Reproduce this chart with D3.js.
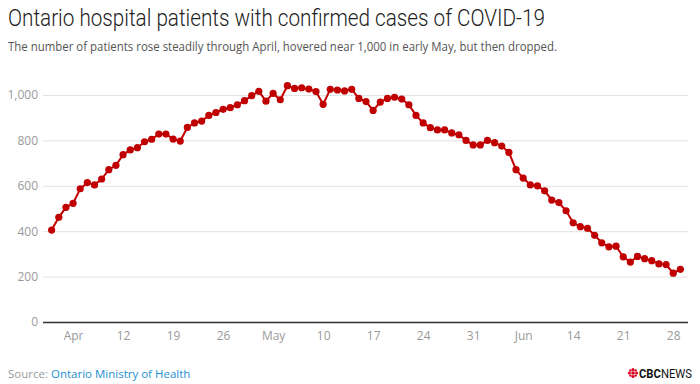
<!DOCTYPE html>
<html>
<head>
<meta charset="utf-8">
<script src="https://cdn.jsdelivr.net/npm/d3@7"></script>
<style>
  html, body { margin: 0; padding: 0; background: #fff; }
  svg { display: block; }
</style>
</head>
<body>
<svg width="700" height="384"></svg>
<script>
// Ontario hospital patients, one value per day starting Apr 2, 2020
const startDay = "2020-04-02";
const patients = [
  405, 461, 505, 523, 587, 614, 604, 630, 671, 690,
  737, 758, 768, 794, 805, 828, 828, 806, 797, 857,
  877, 885, 910, 923, 937, 944, 957, 975, 997, 1016,
  973, 1007, 979, 1041, 1029, 1032, 1026, 1015, 959, 1025,
  1022, 1018, 1025, 985, 971, 932, 969, 985, 990, 982,
  957, 910, 877, 856, 846, 846, 833, 825, 800, 780,
  780, 800, 790, 775, 747, 671, 634, 604, 600, 578,
  537, 526, 490, 437, 420, 413, 382, 349, 331, 334,
  287, 264, 289, 279, 270, 256, 253, 215, 232
];
const yTicks = [0, 200, 400, 600, 800, 1000];
const xTickLabels = ["Apr", "12", "19", "26", "May", "10", "17", "24", "31", "Jun", "14", "21", "28"];

const parse = d3.timeParse("%Y-%m-%d");
const first = parse(startDay);
const points = patients.map((v, i) => ({ date: d3.timeDay.offset(first, i), value: v }));

const svg = d3.select("svg");
const red = "#c00000";
const grey = "#9a9a9a";

const x = d3.scaleTime()
  .domain([parse("2020-04-01"), parse("2020-06-30")])
  .range([44.5, 687.5]);
const y = d3.scaleLinear().domain([0, 1000]).range([322, 95]);

// titles
svg.append("text")
  .attr("x", 8).attr("y", 26)
  .attr("font-family", "Roboto, sans-serif")
  .attr("font-size", 24)
  .attr("font-weight", 300)
  .attr("fill", "#222")
  .attr("textLength", 537)
  .attr("lengthAdjust", "spacingAndGlyphs")
  .text("Ontario hospital patients with confirmed cases of COVID-19");

svg.append("text")
  .attr("x", 8).attr("y", 51)
  .attr("font-family", "'Open Sans', sans-serif")
  .attr("font-size", 12)
  .attr("fill", "#555")
  .attr("textLength", 549)
  .attr("lengthAdjust", "spacingAndGlyphs")
  .text("The number of patients rose steadily through April, hovered near 1,000 in early May, but then dropped.");

// y grid + labels
const yAxis = svg.append("g")
  .attr("transform", "translate(43,0)")
  .call(d3.axisLeft(y).tickValues(yTicks).tickSize(-645).tickPadding(5).tickFormat(d3.format(",")));
yAxis.select(".domain").remove();
yAxis.selectAll(".tick line")
  .attr("stroke", d => d === 0 ? "#333" : "#e2e2e2")
  .attr("stroke-width", d => d === 0 ? 1.5 : 1);
yAxis.selectAll(".tick text")
  .attr("fill", grey)
  .attr("font-family", "'Open Sans', sans-serif")
  .attr("font-size", 12);

// x labels
const sundays = d3.timeSunday.range(parse("2020-04-01"), parse("2020-06-30"));
const xAxis = svg.append("g")
  .attr("transform", "translate(0,322)")
  .call(d3.axisBottom(x).tickValues(sundays).tickSize(0).tickPadding(9)
    .tickFormat((d, i) => xTickLabels[i]));
xAxis.select(".domain").remove();
xAxis.selectAll(".tick text")
  .attr("fill", grey)
  .attr("font-family", "'Open Sans', sans-serif")
  .attr("font-size", 12);

// line and dots
const line = d3.line().x(d => x(d.date)).y(d => y(d.value));
svg.append("path")
  .datum(points)
  .attr("d", line)
  .attr("fill", "none")
  .attr("stroke", red)
  .attr("stroke-width", 2);

svg.append("g")
  .selectAll("circle")
  .data(points)
  .join("circle")
  .attr("cx", d => x(d.date))
  .attr("cy", d => y(d.value))
  .attr("r", 3.6)
  .attr("fill", red);

// footer
const source = svg.append("text")
  .attr("x", 8).attr("y", 378)
  .attr("font-family", "'Open Sans', sans-serif")
  .attr("font-size", 11.5);
source.append("tspan").attr("fill", grey).text("Source: ");
source.append("tspan").attr("fill", "#1e8fd0").text("Ontario Ministry of Health");

// CBC gem + wordmark
const gem = svg.append("g").attr("transform", "translate(633,373)").attr("fill", "#d6001c");
gem.append("circle").attr("r", 1.8);
[[0, -3.6], [0, 3.6], [-3.6, 0], [3.6, 0]].forEach(([dx, dy]) =>
  gem.append("circle").attr("cx", dx).attr("cy", dy).attr("r", 1.5));
[[-2.6, -2.6], [2.6, -2.6], [-2.6, 2.6], [2.6, 2.6]].forEach(([dx, dy]) =>
  gem.append("circle").attr("cx", dx).attr("cy", dy).attr("r", 1.2));

const logo = svg.append("text")
  .attr("x", 639).attr("y", 378)
  .attr("font-family", "Roboto, sans-serif")
  .attr("font-size", 12.5)
  .attr("fill", "#111")
  .attr("textLength", 53)
  .attr("lengthAdjust", "spacingAndGlyphs");
logo.append("tspan").attr("font-weight", 700).text("CBC");
logo.append("tspan").attr("font-weight", 400).text("NEWS");
</script>
</body>
</html>
